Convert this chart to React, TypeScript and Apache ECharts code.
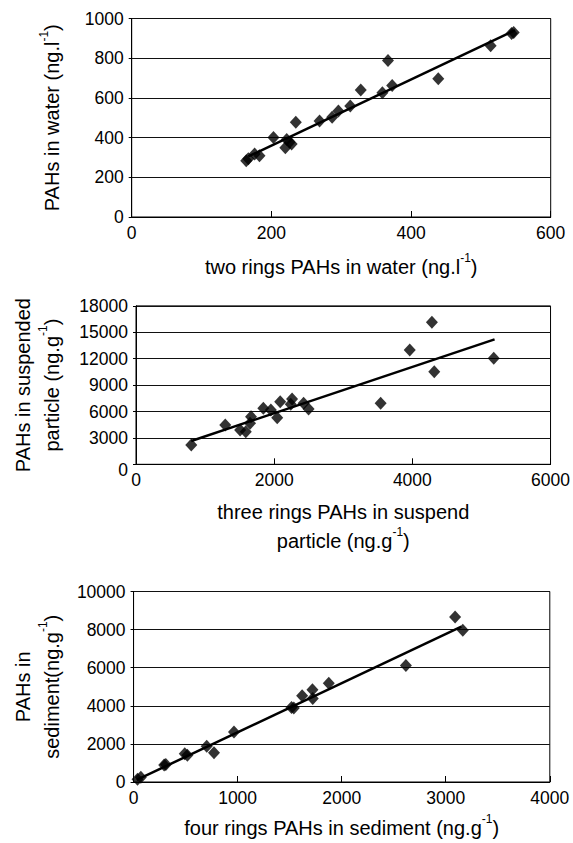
import React, { useEffect, useRef } from "react";
import * as echarts from "echarts";

// Panel 1: two rings PAHs in water vs PAHs in water (ng/l)
const waterX = [164, 167, 176, 183, 203, 220, 222, 226, 229, 235, 269, 287, 296, 313, 328, 359, 367, 373, 439, 514, 544, 547];
const waterY = [284, 293, 317, 309, 400, 349, 390, 376, 368, 477, 484, 502, 534, 559, 640, 626, 788, 662, 697, 863, 925, 930];
const waterTrendX = [167, 549];
const waterTrendY = [305, 941];

// Panel 2: three rings PAHs in suspended particle (ng/g)
const suspX = [800, 1292, 1507, 1589, 1651, 1665, 1843, 1952, 2044, 2087, 2240, 2259, 2426, 2498, 3541, 3962, 4283, 4317, 5178];
const suspY = [2190, 4460, 3900, 3700, 4660, 5410, 6360, 6170, 5300, 7110, 6810, 7420, 6930, 6280, 6930, 12990, 16130, 10520, 12040];
const suspTrendX = [800, 5190];
const suspTrendY = [2650, 14200];

// Panel 3: four rings PAHs in sediment (ng/g)
const sedX = [38, 70, 294, 310, 492, 517, 703, 773, 965, 1518, 1540, 1620, 1719, 1722, 1876, 2617, 3090, 3164];
const sedY = [150, 250, 888, 920, 1482, 1410, 1880, 1535, 2630, 3915, 3880, 4526, 4840, 4385, 5190, 6110, 8665, 7971];
const sedTrendX = [30, 3150];
const sedTrendY = [110, 8150];

// Axis ranges and titles
const xMax = [600, 6000, 4000];
const xStep = [200, 2000, 1000];
const yMax = [1000, 18000, 10000];
const yStep = [200, 3000, 2000];
const xTitles = [
  "two rings PAHs in water (ng.l{sup|-1})",
  "three rings PAHs in suspend\nparticle (ng.g{sup|-1})",
  "four rings PAHs in sediment (ng.g{sup|-1})",
];
const yTitles = [
  "PAHs in water (ng.l{sup|-1})",
  "PAHs in suspended\nparticle (ng.g{sup|-1})",
  "PAHs in\nsediment(ng.g{sup|-1})",
];

const FONT = '"Liberation Sans", Arial, Helvetica, sans-serif';
const zip = (xs: number[], ys: number[]) => xs.map((x, i) => [x, ys[i]]);

export default function App() {
  const ref = useRef<HTMLDivElement>(null);
  useEffect(() => {
    const chart = echarts.init(ref.current!, null, { renderer: "svg" });

    const grids = [
      { left: 131.7, top: 18.5, width: 419, height: 198.5 },
      { left: 133.3, top: 305.9, width: 417.4, height: 158.4 },
      { left: 133.3, top: 591.5, width: 416.5, height: 191 },
    ];
    const xNameGap = [35, 33, 31];
    const yNameGap = [65, 70, 67];

    const titleStyle = {
      fontFamily: FONT,
      fontSize: 20,
      color: "#000",
      lineHeight: 29,
      rich: {
        sup: { fontFamily: FONT, fontSize: 12, lineHeight: 18, verticalAlign: "top", color: "#000" },
      },
    };

    const xAxis = grids.map((_, i) => ({
      type: "value",
      gridIndex: i,
      min: 0,
      max: xMax[i],
      interval: xStep[i],
      axisLine: { show: true, onZero: false, lineStyle: { color: "#000", width: 1 } },
      axisTick: { show: true, inside: true, length: 6, lineStyle: { color: "#000" } },
      splitLine: { show: false },
      axisLabel: {
        fontFamily: FONT,
        fontSize: 17.5,
        color: "#000",
        margin: 7,
        formatter: (v: number) => String(v),
      },
      name: xTitles[i],
      nameLocation: "middle",
      nameGap: xNameGap[i],
      nameTextStyle: titleStyle,
    }));

    const yAxis = grids.map((_, i) => ({
      type: "value",
      gridIndex: i,
      min: 0,
      max: yMax[i],
      interval: yStep[i],
      axisLine: { show: true, onZero: false, lineStyle: { color: "#000", width: 1 } },
      axisTick: { show: true, inside: false, length: 3, lineStyle: { color: "#000" } },
      splitLine: { show: true, lineStyle: { color: "#111", width: 1 } },
      axisLabel: {
        fontFamily: FONT,
        fontSize: 17.5,
        color: "#000",
        margin: 8,
        formatter: (v: number) => (i === 1 && v === 0 ? "{low|0}" : String(v)),
        rich: { low: { fontFamily: FONT, fontSize: 17.5, color: "#000", padding: [12, 0, 0, 0] } },
      },
      name: yTitles[i],
      nameLocation: "middle",
      nameGap: yNameGap[i],
      nameTextStyle: titleStyle,
    }));

    const pts = [zip(waterX, waterY), zip(suspX, suspY), zip(sedX, sedY)];
    const trends = [
      zip(waterTrendX, waterTrendY),
      zip(suspTrendX, suspTrendY),
      zip(sedTrendX, sedTrendY),
    ];

    const series: any[] = [];
    for (let i = 0; i < 3; i++) {
      series.push({
        type: "line",
        xAxisIndex: i,
        yAxisIndex: i,
        data: trends[i],
        symbol: "none",
        lineStyle: { color: "#000", width: 2.5 },
        z: 2,
      });
      series.push({
        type: "scatter",
        xAxisIndex: i,
        yAxisIndex: i,
        data: pts[i],
        symbol: "diamond",
        symbolSize: [12, 13],
        itemStyle: { color: "#000" },
        z: 3,
      });
    }

    chart.setOption({
      animation: false,
      backgroundColor: "#fff",
      grid: grids.map((g) => ({ ...g, show: true, borderColor: "#000", borderWidth: 1, backgroundColor: "transparent" })),
      xAxis,
      yAxis,
      series,
    });
    return () => chart.dispose();
  }, []);
  return (
    <div
      ref={ref}
      style={{ position: "fixed", left: 0, top: 0, width: 573, height: 843, background: "#fff" }}
    />
  );
}
